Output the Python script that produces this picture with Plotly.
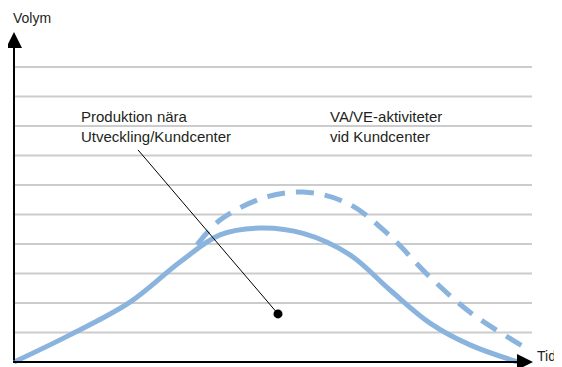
import plotly.graph_objects as go

# Data (time units, volume units)
solid_x = [0, 11.2, 23.2, 33.2, 41.2, 49.2, 58.0, 67.2, 75.2, 83.2, 91.2, 100.8]
solid_y = [0, 0.92, 2.03, 3.39, 4.31, 4.54, 4.35, 3.63, 2.44, 1.32, 0.58, 0.0]

dash_x = [36.6, 41.2, 49.8, 57.9, 66.6, 74.6, 83.2, 91.2, 102]
dash_y = [3.97, 4.81, 5.56, 5.76, 5.39, 4.37, 2.88, 1.69, 0.51]

grid_levels = [1, 2, 3, 4, 5, 6, 7, 8, 9, 10]

label_left = "Produktion nära<br>Utveckling/Kundcenter"
label_right = "VA/VE-aktiviteter<br>vid Kundcenter"
y_title = "Volym"
x_title = "Tid"

leader_x = [24.8, 52.8]
leader_y = [7.19, 1.63]

BLUE = "#8ab4de"
GRID = "#cccccc"
TXT = "#231f20"
FONT = "Liberation Sans, Arial, sans-serif"

fig = go.Figure()

# gridlines
for g in grid_levels:
    fig.add_shape(type="line", xref="x", yref="y", x0=0, x1=103.6, y0=g, y1=g,
                  line=dict(color=GRID, width=2), layer="below")

fig.add_trace(go.Scatter(x=dash_x, y=dash_y, mode="lines",
                         line=dict(color=BLUE, width=5, dash="18px,11px", shape="spline"),
                         hoverinfo="skip"))
fig.add_trace(go.Scatter(x=solid_x, y=solid_y, mode="lines",
                         line=dict(color=BLUE, width=5, shape="spline"),
                         hoverinfo="skip"))

# leader line and dot
fig.add_trace(go.Scatter(x=leader_x, y=leader_y, mode="lines",
                         line=dict(color="#000000", width=1), hoverinfo="skip"))
fig.add_trace(go.Scatter(x=[leader_x[1]], y=[leader_y[1]], mode="markers",
                         marker=dict(color="#000000", size=9), hoverinfo="skip"))

# axes arrows
fig.add_annotation(x=0, y=11.19, ax=0, ay=0, xref="x", yref="y", axref="x", ayref="y",
                   showarrow=True, arrowhead=2, arrowsize=1.6, arrowwidth=2,
                   arrowcolor="#000000", text="", standoff=0, startstandoff=0)
fig.add_annotation(x=103.8, y=0, ax=-0.5, ay=0, xref="x", yref="y", axref="x", ayref="y",
                   showarrow=True, arrowhead=2, arrowsize=1.6, arrowwidth=2,
                   arrowcolor="#000000", text="", standoff=0, startstandoff=0)

fig.add_annotation(x=-0.6, y=11.66, xref="x", yref="y", text=y_title, showarrow=False,
                   xanchor="left", yanchor="middle", font=dict(family=FONT, size=14, color=TXT))
fig.add_annotation(x=1, y=0.2, xref="paper", yref="y", text=x_title, showarrow=False,
                   xanchor="right", yanchor="middle", xshift=-4,
                   font=dict(family=FONT, size=14, color=TXT))

fig.add_annotation(x=13.0, y=8.0, xref="x", yref="y", text=label_left, showarrow=False,
                   xanchor="left", yanchor="middle", align="left",
                   font=dict(family=FONT, size=15, color=TXT))
fig.add_annotation(x=62.8, y=8.0, xref="x", yref="y", text=label_right, showarrow=False,
                   xanchor="left", yanchor="middle", align="left",
                   font=dict(family=FONT, size=15, color=TXT))

# page has an 8px body margin: the figure starts at page pixel (8, 8)
fig.update_layout(
    width=554, height=359,
    margin=dict(l=0, r=0, t=0, b=0),
    paper_bgcolor="white", plot_bgcolor="white",
    showlegend=False,
    xaxis=dict(range=[-1.2, 109.6], visible=False, fixedrange=True),
    yaxis=dict(range=[-5 / 29.5, 354 / 29.5], visible=False, fixedrange=True),
)

fig.write_html("out.html")
